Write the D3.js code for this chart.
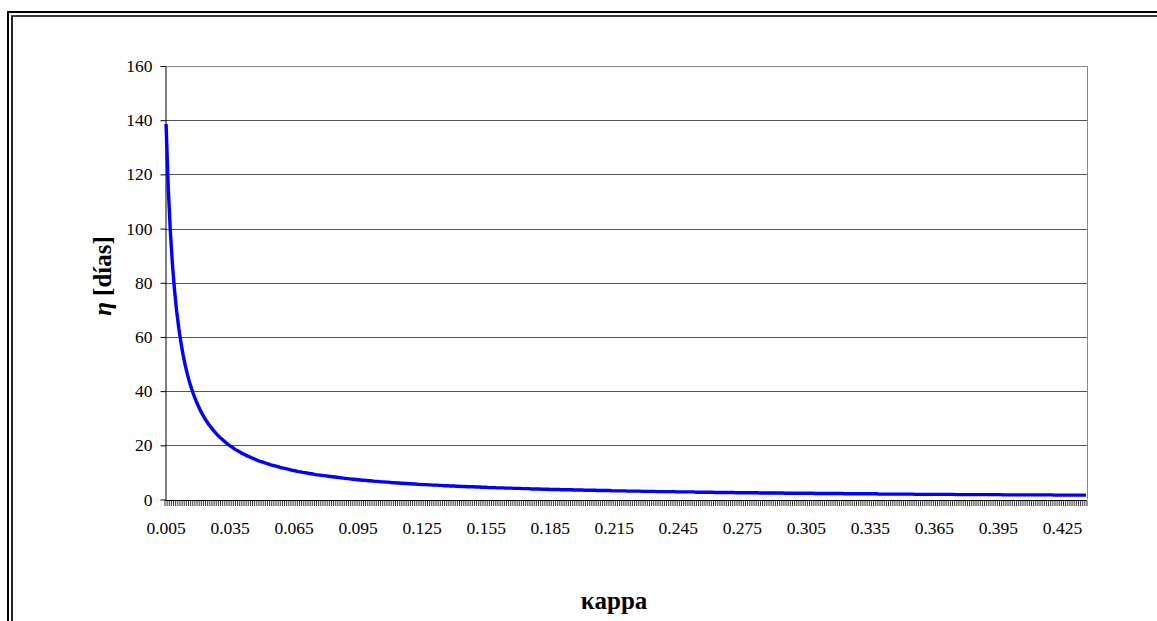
<!DOCTYPE html>
<html>
<head>
<meta charset="utf-8">
<script src="https://cdn.jsdelivr.net/npm/d3@7"></script>
<style>
  body { margin: 0; background: #fff; }
  svg { display: block; }
</style>
</head>
<body>
<div id="chart"></div>
<script>
// chart size, same as the window
const width = 1157,
  height = 621,
  margins = { top: 66, bottom: 121.5, left: 165, right: 70 };

// x categories: kappa from 0.005 to 0.436, one per 0.001
const kappa = d3.range(5, 437).map(n => (n / 1000).toFixed(3));

// eta [días], one value per kappa category
const eta = [
  138.6,115.5,99.0,86.6,77.0,69.3,63.0,57.8,53.3,49.5,
  46.2,43.3,40.8,38.5,36.5,34.7,33.0,31.5,30.1,28.9,
  27.7,26.7,25.7,24.8,23.9,23.1,22.4,21.7,21.0,20.4,
  19.8,19.3,18.7,18.2,17.8,17.3,16.9,16.5,16.1,15.8,
  15.4,15.1,14.7,14.4,14.1,
  13.9,13.6,13.3,13.1,12.8,12.6,12.4,12.2,12.0,11.7,
  11.6,11.4,11.2,11.0,10.8,10.7,10.5,10.3,10.2,10.0,
  9.9,9.8,9.6,9.5,9.4,9.2,9.1,9.0,8.9,8.8,
  8.7,8.6,8.5,8.4,8.3,8.2,8.1,8.0,7.9,7.8,
  7.7,7.6,7.5,7.5,7.4,7.3,7.2,7.1,7.1,7.0,
  6.9,6.9,6.8,6.7,6.7,6.6,6.5,6.5,6.4,6.4,
  6.3,6.2,6.2,6.1,6.1,6.0,6.0,5.9,5.9,5.8,
  5.8,5.7,5.7,5.6,5.6,5.5,5.5,5.5,5.4,5.4,
  5.3,5.3,5.3,5.2,5.2,5.1,5.1,5.1,5.0,5.0,
  5.0,4.9,4.9,4.8,4.8,4.8,4.7,4.7,4.7,4.7,
  4.6,4.6,4.6,4.5,4.5,4.5,4.4,4.4,4.4,4.4,
  4.3,4.3,4.3,4.3,4.2,4.2,4.2,4.2,4.1,4.1,
  4.1,4.1,4.0,4.0,4.0,4.0,3.9,3.9,3.9,3.9,
  3.9,3.8,3.8,3.8,3.8,3.7,3.7,3.7,3.7,3.7,
  3.6,3.6,3.6,3.6,3.6,3.6,3.5,3.5,3.5,3.5,
  3.5,3.4,3.4,3.4,3.4,3.4,3.4,3.3,3.3,3.3,
  3.3,3.3,3.3,3.3,3.2,3.2,3.2,3.2,3.2,3.2,
  3.2,3.1,3.1,3.1,3.1,3.1,3.1,3.1,3.0,3.0,
  3.0,3.0,3.0,3.0,3.0,2.9,2.9,2.9,2.9,2.9,
  2.9,2.9,2.9,2.9,2.8,2.8,2.8,2.8,2.8,2.8,
  2.8,2.8,2.8,2.7,2.7,2.7,2.7,2.7,2.7,2.7,
  2.7,2.7,2.6,2.6,2.6,2.6,2.6,2.6,2.6,2.6,
  2.6,2.6,2.5,2.5,2.5,2.5,2.5,2.5,2.5,2.5,
  2.5,2.5,2.5,2.4,2.4,2.4,2.4,2.4,2.4,2.4,
  2.4,2.4,2.4,2.4,2.4,2.3,2.3,2.3,2.3,2.3,
  2.3,2.3,2.3,2.3,2.3,2.3,2.3,2.3,2.3,2.2,
  2.2,2.2,2.2,2.2,2.2,2.2,2.2,2.2,2.2,2.2,
  2.2,2.2,2.2,2.1,2.1,2.1,2.1,2.1,2.1,2.1,
  2.1,2.1,2.1,2.1,2.1,2.1,2.1,2.1,2.1,2.0,
  2.0,2.0,2.0,2.0,2.0,2.0,2.0,2.0,2.0,2.0,
  2.0,2.0,2.0,2.0,2.0,2.0,1.9,1.9,1.9,1.9,
  1.9,1.9,1.9,1.9,1.9,1.9,1.9,1.9,1.9,1.9,
  1.9,1.9,1.9,1.9,1.9,1.8,1.8,1.8,1.8,1.8,
  1.8,1.8,1.8,1.8,1.8,1.8,1.8,1.8,1.8,1.8,
  1.8,1.8,1.8,1.8,1.8,1.8,1.8,1.7,1.7,1.7,
  1.7,1.7,1.7,1.7,1.7,1.7,1.7,1.7,1.7,1.7,
  1.7,1.7,1.7,1.7,1.7,1.7,1.7,1.7,1.7,1.7,
  1.7,1.6,1.6,1.6,1.6,1.6,1.6,1.6,1.6,1.6,
  1.6,1.6,1.6,1.6,1.6,1.6,1.6
];

const yTicks = [0, 20, 40, 60, 80, 100, 120, 140, 160];
const labelEvery = 30; // one x label per 30 categories

const data = kappa.map((k, i) => ({ k: k, eta: eta[i] }));

const serif = "'Liberation Serif', 'Times New Roman', serif";

const svg = d3.select("#chart")
  .append("svg")
  .attr("width", width)
  .attr("height", height);

// double frame (top and left only, rest is cut off)
svg.append("path")
  .attr("d", `M8,${height} V12 H${width}`)
  .attr("fill", "none").attr("stroke", "#000").attr("stroke-width", 2);
svg.append("path")
  .attr("d", `M12,${height} V16 H${width}`)
  .attr("fill", "none").attr("stroke", "#000").attr("stroke-width", 1.7);

// scales
const xScale = d3.scaleBand()
  .domain(kappa)
  .range([margins.left, width - margins.right])
  .padding(0);

const yScale = d3.scaleLinear()
  .domain([0, 160])
  .range([height - margins.bottom, margins.top]);

// gridlines
svg.append("g")
  .selectAll("line")
  .data(yTicks.filter(d => d > 0))
  .join("line")
  .attr("x1", margins.left)
  .attr("x2", width - margins.right)
  .attr("y1", d => Math.round(yScale(d)) + 0.5)
  .attr("y2", d => Math.round(yScale(d)) + 0.5)
  .attr("stroke", d => d === 160 ? "#8a8a8a" : "#555")
  .attr("stroke-width", 1);

// right border of the plot area
svg.append("line")
  .attr("x1", width - margins.right + 0.5)
  .attr("x2", width - margins.right + 0.5)
  .attr("y1", yScale(160))
  .attr("y2", yScale(0))
  .attr("stroke", "#8a8a8a");

// y axis
svg.append("g")
  .attr("class", "y-axis")
  .attr("transform", `translate(${margins.left + 0.5},0)`)
  .call(d3.axisLeft(yScale).tickValues(yTicks).tickSize(5).tickSizeOuter(0).tickPadding(8))
  .call(g => g.select(".domain").attr("stroke", "#000"))
  .call(g => g.selectAll(".tick line").attr("stroke", "#000"))
  .call(g => g.selectAll("text")
    .style("font-family", serif)
    .style("font-size", "17.5px")
    .attr("fill", "#000"));

// x axis line
svg.append("line")
  .attr("x1", margins.left)
  .attr("x2", width - margins.right)
  .attr("y1", Math.round(yScale(0)) + 0.5)
  .attr("y2", Math.round(yScale(0)) + 0.5)
  .attr("stroke", "#000");

// x tick marks between every category
const bounds = kappa.map(k => xScale(k)).concat([xScale.range()[1]]);
svg.append("g")
  .selectAll("line")
  .data(bounds)
  .join("line")
  .attr("x1", d => d)
  .attr("x2", d => d)
  .attr("y1", Math.round(yScale(0)) + 0.5)
  .attr("y2", Math.round(yScale(0)) + 6)
  .attr("stroke", "#000")
  .attr("stroke-width", 0.8);

// x labels
svg.append("g")
  .attr("class", "x-axis")
  .attr("transform", `translate(0,${yScale(0)})`)
  .call(d3.axisBottom(xScale)
    .tickValues(kappa.filter((k, i) => i % labelEvery === 0))
    .tickSize(0).tickPadding(22))
  .call(g => g.select(".domain").remove())
  .call(g => g.selectAll("text")
    .style("font-family", serif)
    .style("font-size", "17.5px")
    .attr("fill", "#000"));

// the curve
const line = d3.line()
  .x(d => xScale(d.k) + xScale.bandwidth() / 2)
  .y(d => yScale(d.eta));

svg.append("path")
  .datum(data)
  .attr("d", line)
  .attr("fill", "none")
  .attr("stroke", "#0000ff")
  .attr("stroke-width", 3.4)
  .attr("stroke-linejoin", "round");

// axis titles
svg.append("text")
  .attr("x", 614)
  .attr("y", 609)
  .attr("text-anchor", "middle")
  .style("font-family", serif)
  .style("font-size", "25px")
  .style("font-weight", "bold")
  .text("κappa");

const yTitle = svg.append("text")
  .attr("transform", `translate(111,276)rotate(-90)`)
  .attr("text-anchor", "middle")
  .style("font-family", serif)
  .style("font-size", "25px")
  .style("font-weight", "bold");
yTitle.append("tspan").style("font-style", "italic").text("η");
yTitle.append("tspan").text(" [días]");
</script>
</body>
</html>
